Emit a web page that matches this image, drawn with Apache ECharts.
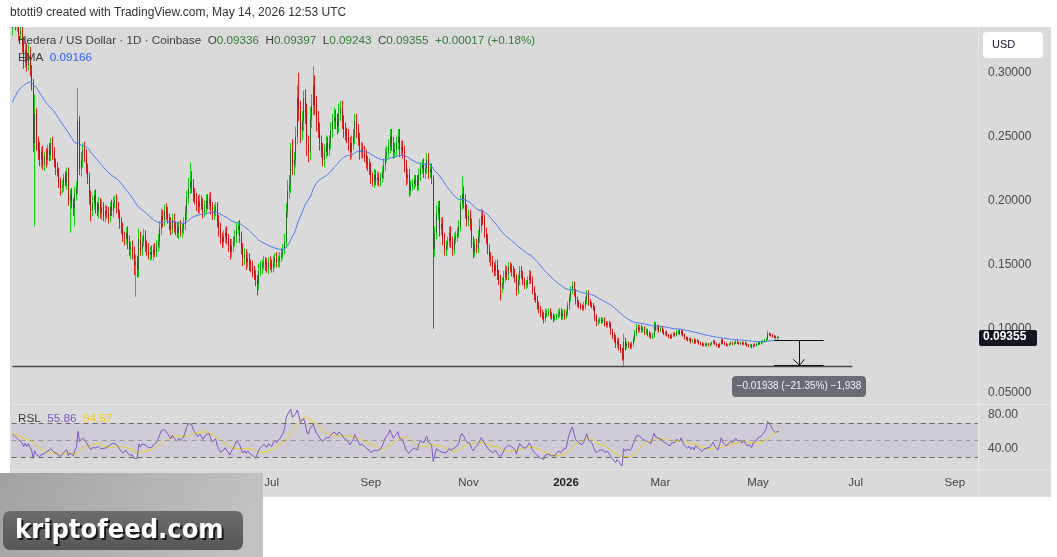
<!DOCTYPE html>
<html>
<head>
<meta charset="utf-8">
<script src="https://cdn.jsdelivr.net/npm/echarts@6/dist/echarts.min.js"></script>
<style>
html,body{margin:0;padding:0;background:#fff;}
#chart{width:1057px;height:557px;}
</style>
</head>
<body>
<div id="chart"></div>
<script>
// HBAR / USD daily candles, Coinbase, 20 Jan 2025 - 14 May 2026
// closes in thousandths of a dollar, month by month; open = previous close
// wickUp / wickDn: wick length above / below the body, same units
const close2501 = [345,352,338,342,330,333,322,308,318,306,314,301];
const up2501 = [15,12,10,8,9,7,8,6,7,5,8,6];
const dn2501 = [6,8,5,6,5,4,6,5,4,5,4,4];
const close2502 = [290,245,268,245,240,232,238,228,235,232, 240,236,245,238,230,225,222,215,210,212, 218,214,222,200,205,198,194,205];
const up2502 = [5,5,15,4,5,6,4,5,3,6, 4,5,4,5,4,3,5,4,3,4, 3,5,4,4,4,5,4,6];
const dn2502 = [4,7,65,6,8,5,6,4,5,6, 4,5,5,6,4,5,3,5,6,4, 5,3,5,4,25,4,6,14];
const close2503 = [210,262,225,232,240,235,225,218,203,192, 198,204,195,192,198,190,195,188,192,190, 188,195,192,198,200,195,190,183,178,172, 170];
const up2503 = [5,26,4,6,5,6,5,4,4,5, 6,4,5,4,5,4,6,4,5,4, 5,4,6,5,4,5,4,3,4,5, 4];
const dn2503 = [5,5,5,6,6,5,4,5,6,8, 4,5,5,4,6,4,5,4,5,4, 6,5,4,5,4,5,4,5,4,4, 5];
const close2504 = [175,168,162,164,160,150,152,146,170,162, 168,172,165,162,158,160,158,162,160,165, 168,178,188,185,192,190,186,182,178,185];
const up2504 = [4,5,5,4,5,4,6,5,8,6, 5,6,5,4,5,4,5,4,5,4, 6,6,6,5,5,6,5,4,5,5];
const dn2504 = [4,6,5,8,6,8,25,6,6,5, 5,4,5,5,4,5,4,5,4,4, 5,5,5,6,5,5,4,5,5,4];
const close2505 = [180,178,175,180,176,178,182,190,202,210, 215,212,205,202,198,195,200,197,192,194, 200,198,202,195,190,192,195,184,178,171, 168];
const up2505 = [5,4,5,4,5,4,5,6,6,8, 15,8,5,5,4,6,5,4,5,6, 5,5,4,5,4,5,4,4,5,5, 4];
const dn2505 = [5,5,4,5,4,5,4,5,5,5, 5,6,6,5,6,5,5,4,6,5, 5,5,5,6,5,5,4,5,6,5, 5];
const close2506 = [172,175,170,165,160,165,168,172,178,180, 172,163,155,158,152,155,150,148,145,142, 138,135,145,148,150,152,150,148,152,150];
const up2506 = [5,4,5,4,5,5,4,5,5,4, 5,4,4,5,4,5,4,4,5,4, 4,4,6,5,4,5,4,5,4,5];
const dn2506 = [4,5,4,5,6,4,5,4,5,4, 5,5,6,5,6,4,5,4,5,4, 5,9,5,4,5,4,5,4,5,4];
const close2507 = [148,152,155,152,153,156,158,162,168,192, 208,212,240,228,232,250,280,270,255,262, 280,268,245,238,265,275,290,275,262,255, 245];
const up2507 = [4,5,4,5,4,4,5,4,6,6, 8,8,5,8,6,8,10,20,8,8, 6,7,8,6,8,8,15,8,7,8, 6];
const dn2507 = [4,4,5,4,4,5,4,4,4,5, 5,6,6,8,8,6,6,8,10,8, 8,8,10,8,6,8,8,8,8,6, 6];
const close2508 = [240,232,238,245,240,245,255,262,265,262, 258,268,272,262,255,252,250,245,238,245, 250,262,255,248,238,240,238,235,230,228, 225];
const up2508 = [6,5,6,6,5,6,6,6,8,6, 6,8,6,6,5,6,5,6,5,6, 6,6,6,5,5,6,5,5,5,5, 5];
const dn2508 = [6,5,6,5,5,5,5,6,6,6, 6,5,6,6,6,5,5,6,6,5, 5,6,6,5,6,5,5,5,5,5, 5];
const close2509 = [218,215,220,216,218,215,218,222,228,235, 238,242,250,245,238,240,245,250,240,242, 238,228,218,220,208,212,213,216,215,212];
const up2509 = [5,4,5,4,5,4,4,5,5,6, 5,6,6,6,5,5,5,6,6,5, 5,5,4,5,5,4,4,4,4,5];
const dn2509 = [5,4,5,4,4,4,4,4,5,5, 5,5,5,6,5,5,5,5,6,5, 5,6,6,5,5,4,4,4,4,4];
const close2510 = [220,225,228,222,225,232,222,225,218,162, 175,190,195,178,182,170,162,165,168,175, 168,162,170,172,175,180,198,205,200,192, 185];
const up2510 = [5,5,4,5,4,5,5,4,4,2, 5,6,5,5,5,5,5,4,4,5, 5,4,5,4,4,5,6,14,6,5, 5];
const dn2510 = [4,5,4,4,5,4,5,4,5,62, 6,5,5,6,5,5,5,5,4,4, 5,5,4,4,4,4,4,5,6,6, 5];
const close2511 = [188,182,168,160,166,163,172,180,188,185, 175,170,162,156,153,148,145,150,142,138, 132,135,140,145,142,148,147,145,143,140];
const up2511 = [5,5,4,4,4,4,5,6,6,5, 4,4,4,4,4,4,4,4,4,4, 4,5,5,5,4,4,4,4,4,4];
const dn2511 = [5,5,5,5,4,4,4,5,5,4, 4,4,4,4,4,4,4,4,4,4, 10,4,4,4,4,4,3,4,3,4];
const close2512 = [130,138,145,142,137,134,135,138,142,138, 130,125,123,118,115,112,110,108,112,112, 113,111,110,108,109,110,112,113,110,112, 110];
const up2512 = [3,4,4,4,3,3,3,3,4,3, 3,3,3,3,3,3,3,3,4,3, 3,3,2,2,2,2,3,3,3,3, 3];
const dn2512 = [4,3,4,3,3,3,3,3,3,3, 3,3,3,3,3,3,3,4,3,3, 2,3,3,3,2,2,2,3,3,3, 3];
const close2601 = [112,118,124,130,134,128,122,120,118,117, 116,118,122,127,121,119,118,116,109,105, 106,107,106,107,104,103,104,103,98,95, 92];
const up2601 = [3,3,3,3,3,3,3,3,2,2, 2,3,3,3,3,2,2,2,2,2, 2,2,2,2,2,2,2,2,2,2, 2];
const dn2601 = [2,2,3,3,3,3,3,3,2,2, 2,2,3,3,3,2,2,2,3,3, 2,2,2,2,2,2,2,2,3,3, 3];
const close2602 = [88,90,86,84,76,90,86,88,87,86, 88,92,96,101,99,101,99,100,97,98, 96,95,94,95,103,100,101,99];
const up2602 = [3,3,3,2,1,6,3,2,2,2, 2,2,3,3,2,2,2,2,2,2, 2,2,2,2,3,2,2,2];
const dn2602 = [3,3,3,3,1,5.5,3,2,2,2, 2,2,2,2,2,2,2,2,2,2, 2,2,2,2,2,2,2,2];
const close2603 = [100,98,96,97,95,94,93,95,96,95, 97,98,96,98,95,93,92,91,92,90, 91,89,91,90,89,88,87,88,87,88, 87];
const up2603 = [2,1.5,1.5,1,1.5,1,1.5,1.5,1,1.5, 1.5,1,1.5,1,1.5,1,1,1.5,1,1, 1,1.5,1,1,1,1,1.5,1,1,1, 1];
const dn2603 = [1.5,1.5,1,1.5,1,1.5,1,1,1.5,1, 1,1.5,1,1.5,1,1.5,1,1,1,1.5, 1,1,1,1,1.5,1,1,1,1,1, 1];
const close2604 = [88,89,90,88,87,86,88,91,89,88, 87,87.5,88,89,88,89,90,89,88.5,89, 88,89,88,87,86.5,87,86,87.5,87,88];
const up2604 = [1,1,1.5,1,1,1,1.2,1.5,1,1, 1,0.8,1,1,1,1,1.2,1,0.8,1, 1,1,1,1,0.8,1,1,1,1,1];
const dn2604 = [1,1,1,1,1.2,1,1,1,1,1.2, 1,1,0.8,1,1,1,1,1,1,1, 1,1,1,1,1,1,1.2,1,1,1];
const close2605 = [89,88.5,89.5,90,91,92,96,95.5,95,94, 93.8,93.2,93.36,93.55];
const up2605 = [1,1,1,1,1,1,2.5,1,1,1, 0.8,0.8,0.8,0.42];
const dn2605 = [1,1,1,1,1,1,1,1,1,1, 1,1,1,0.93];
const firstOpen = 335;

const emaStart = 0.274;   // EMA value at the left edge
const rsiStart = 57;      // RSI value at the left edge

const tickDates = ['2025-07-01','2025-09-01','2025-11-01','2026-01-01','2026-03-01','2026-05-01','2026-07-01','2026-09-01'];
const tickNames = ['Jul','Sep','Nov','2026','Mar','May','Jul','Sep'];

const closeM = [].concat(close2501,close2502,close2503,close2504,close2505,close2506,close2507,close2508,close2509,close2510,close2511,close2512,close2601,close2602,close2603,close2604,close2605);
const upM = [].concat(up2501,up2502,up2503,up2504,up2505,up2506,up2507,up2508,up2509,up2510,up2511,up2512,up2601,up2602,up2603,up2604,up2605);
const dnM = [].concat(dn2501,dn2502,dn2503,dn2504,dn2505,dn2506,dn2507,dn2508,dn2509,dn2510,dn2511,dn2512,dn2601,dn2602,dn2603,dn2604,dn2605);

// day categories, past the last candle to the right edge of the plot
const nDays = 604;
const days = [];
for (let k = 0; k < nDays; k++) {
  days.push(new Date(Date.UTC(2025, 0, 20 + k)).toISOString().slice(0, 10));
}

const candles = closeM.map((c, i) => {
  const o = i ? closeM[i - 1] : firstOpen;
  const hi = Math.max(o, c) + upM[i];
  const lo = Math.min(o, c) - dnM[i];
  return [i, o / 1000, c / 1000, lo / 1000, hi / 1000];
});

// EMA 50
const ema = [];
let e = emaStart;
closeM.forEach((c, i) => { e = e + (c / 1000 - e) * 2 / 51; ema.push([i, e]); });

// RSI 14 (Wilder) and its 14 SMA
const rsi = [], rsiMa = [];
let ag = 0.0057, al = 0.0043;
closeM.forEach((c, i) => {
  if (i) {
    const d = (c - closeM[i - 1]) / 1000;
    ag = (ag * 13 + Math.max(d, 0)) / 14;
    al = (al * 13 + Math.max(-d, 0)) / 14;
  }
  rsi.push(i ? 100 - 100 / (1 + ag / al) : rsiStart);
  const from = Math.max(0, i - 13);
  const win = rsi.slice(from, i + 1);
  rsiMa.push(win.reduce((a, b) => a + b, 0) / win.length);
});

const font = '"Liberation Sans", Arial, sans-serif';
const chart = echarts.init(document.getElementById('chart'));
chart.setOption({
  animation: false,
  backgroundColor: '#fff',
  textStyle: {fontFamily: font},
  grid: [
    {left: 11.6, top: 27, width: 966.4, height: 429.7},
    {left: 11.6, top: 397.5, width: 966.4, height: 68}
  ],
  xAxis: [
    {type: 'category', gridIndex: 0, data: days, show: false},
    {type: 'category', gridIndex: 1, data: days,
      axisLine: {show: false}, axisTick: {show: false}, splitLine: {show: false},
      axisLabel: {
        margin: 11, fontSize: 11.5, color: '#444', fontFamily: font,
        interval: (idx, val) => tickDates.indexOf(val) >= 0,
        formatter: val => {
          const k = tickDates.indexOf(val);
          if (k < 0) return '';
          return tickNames[k] === '2026' ? '{y|2026}' : tickNames[k];
        },
        rich: {y: {fontWeight: 'bold', fontSize: 11.5, color: '#222', fontFamily: font}}
      }}
  ],
  yAxis: [
    {type: 'value', gridIndex: 0, position: 'right', min: 0, max: 0.3357, interval: 0.05,
      axisLine: {show: false}, axisTick: {show: false}, splitLine: {show: false},
      axisLabel: {margin: 10, fontSize: 12, color: '#4a4a4a', align: 'left',
        formatter: v => (v > 0.01 && Math.abs(v / 0.05 - Math.round(v / 0.05)) < 1e-6) ? v.toFixed(5) : ''}},
    {type: 'value', gridIndex: 1, position: 'right', min: 20, max: 100, interval: 20,
      axisLine: {show: false}, axisTick: {show: false}, splitLine: {show: false},
      axisLabel: {margin: 10, fontSize: 12, color: '#4a4a4a', align: 'left',
        formatter: v => (v === 40 || v === 80) ? v.toFixed(2) : ''}}
  ],
  series: [
    {
      type: 'custom', name: 'HBAR', xAxisIndex: 0, yAxisIndex: 0, clip: true,
      data: candles, encode: {x: 0, y: [1, 2, 3, 4]},
      renderItem: (params, api) => {
        const i = api.value(0), o = api.value(1), c = api.value(2), l = api.value(3), h = api.value(4);
        const pH = api.coord([i, h]), pL = api.coord([i, l]);
        const pO = api.coord([i, o]), pC = api.coord([i, c]);
        const x = Math.round(pH[0] - 0.5);
        const up = c >= o;
        const top = Math.min(pO[1], pC[1]), bot = Math.max(pO[1], pC[1]);
        return {type: 'group', children: [
          {type: 'rect', shape: {x: x, y: pH[1], width: 1, height: Math.max(1, pL[1] - pH[1])},
            style: {fill: up ? '#10d410' : '#ee1e1e'}},
          {type: 'rect', shape: {x: x, y: top, width: 1, height: Math.max(1, bot - top)},
            style: {fill: up ? '#2a6a2a' : '#b81414'}}
        ]};
      }
    },
    {
      type: 'line', name: 'EMA', xAxisIndex: 0, yAxisIndex: 0, data: ema,
      showSymbol: false, lineStyle: {color: '#4d7bf3', width: 1}, z: 3,
      markLine: {
        silent: true, symbol: ['none', 'none'], label: {show: false}, animation: false,
        data: [
          [{coord: [0, 0.0709], lineStyle: {color: '#4a4a4a', width: 1.4, type: 'solid'}}, {coord: [525, 0.0709]}],
          [{coord: [476, 0.09077], lineStyle: {color: '#111', width: 1.2, type: 'solid'}}, {coord: [507, 0.09077]}],
          [{coord: [476, 0.07139], lineStyle: {color: '#111', width: 1.2, type: 'solid'}}, {coord: [507, 0.07139]}],
          [{coord: [491.5, 0.09077], lineStyle: {color: '#111', width: 1, type: 'solid'}}, {coord: [491.5, 0.07139]}],
          [{coord: [488.4, 0.0761], lineStyle: {color: '#111', width: 1, type: 'solid'}}, {coord: [491.5, 0.07139]}],
          [{coord: [494.6, 0.0761], lineStyle: {color: '#111', width: 1, type: 'solid'}}, {coord: [491.5, 0.07139]}]
        ]
      }
    },
    {
      type: 'line', name: 'RSI', xAxisIndex: 1, yAxisIndex: 1, data: rsi.map((v, i) => [i, v]),
      showSymbol: false, lineStyle: {color: '#7e57c2', width: 1}, z: 3,
      markArea: {silent: true, itemStyle: {color: 'rgba(126,87,194,0.1)'}, data: [[{yAxis: 30}, {yAxis: 70}]]},
      markLine: {
        silent: true, symbol: ['none', 'none'], label: {show: false}, animation: false,
        data: [
          {yAxis: 70, lineStyle: {color: '#6a6a6a', type: [5, 4], width: 1}},
          {yAxis: 50, lineStyle: {color: '#9a9a9a', type: [5, 4], width: 1}},
          {yAxis: 30, lineStyle: {color: '#6a6a6a', type: [5, 4], width: 1}}
        ]
      }
    },
    {
      type: 'line', name: 'RSI MA', xAxisIndex: 1, yAxisIndex: 1, data: rsiMa.map((v, i) => [i, v]),
      showSymbol: false, lineStyle: {color: '#f2cf1f', width: 1}, z: 2
    }
  ]
});

const lastY = chart.convertToPixel({gridIndex: 0}, [0, closeM[closeM.length - 1] / 1000])[1] + 1;

chart.setOption({
  graphic: [
    // backgrounds and pane separators
    {type: 'rect', z: -10, silent: true, shape: {x: 10, y: 27, width: 1041, height: 470}, style: {fill: '#dadada'}},
    {type: 'line', z: -9, silent: true, shape: {x1: 10, y1: 404.5, x2: 1051, y2: 404.5}, style: {stroke: '#e6e6ea', lineWidth: 1}},
    {type: 'line', z: -9, silent: true, shape: {x1: 10, y1: 469.5, x2: 1051, y2: 469.5}, style: {stroke: '#e6e6ea', lineWidth: 1}},
    {type: 'line', z: -9, silent: true, shape: {x1: 978.5, y1: 27, x2: 978.5, y2: 497}, style: {stroke: '#e6e6ea', lineWidth: 1}},
    // header
    {type: 'text', left: 10, top: 7, style: {text: 'btotti9 created with TradingView.com, May 14, 2026 12:53 UTC',
      font: '12px ' + font, fill: '#333'}},
    {type: 'text', left: 18, top: 35, z: 10, style: {
      text: '{n|Hedera / US Dollar · 1D · Coinbase}  {n|O}{g|0.09336}  {n|H}{g|0.09397}  {n|L}{g|0.09243}  {n|C}{g|0.09355}  {g|+0.00017 (+0.18%)}',
      font: '11.7px ' + font, fill: '#3c3c3c',
      rich: {n: {fill: '#3c3c3c', font: '11.7px ' + font}, g: {fill: '#2e7d32', font: '11.7px ' + font}}}},
    {type: 'text', left: 18, top: 52, z: 10, style: {
      text: '{n|EMA}  {b|0.09166}', font: '11.7px ' + font,
      rich: {n: {fill: '#3c3c3c', font: '11.7px ' + font}, b: {fill: '#2962ff', font: '11.7px ' + font}}}},
    {type: 'text', left: 18, top: 413, z: 10, style: {
      text: '{n|RSL}  {p|55.86}  {y|54.57}', font: '11.7px ' + font,
      rich: {n: {fill: '#3c3c3c', font: '11.7px ' + font}, p: {fill: '#7e57c2', font: '11.7px ' + font}, y: {fill: '#f2cf1f', font: '11.7px ' + font}}}},
    // USD button
    {type: 'rect', shape: {x: 983, y: 32, width: 60, height: 26, r: 4}, style: {fill: '#fff'}},
    {type: 'text', left: 992, top: 39, style: {text: 'USD', font: '11px ' + font, fill: '#131722'}},
    // last price tag
    {type: 'rect', z: 10, shape: {x: 979, y: lastY - 8, width: 58, height: 16, r: 2}, style: {fill: '#131722'}},
    {type: 'text', z: 11, left: 983, top: lastY - 7, style: {text: '0.09355', font: 'bold 12px ' + font, fill: '#fff'}},
    // measure label
    {type: 'rect', z: 10, shape: {x: 732, y: 376, width: 134, height: 21, r: 4}, style: {fill: '#696c74'}},
    {type: 'text', z: 11, x: 799, y: 386.5, style: {text: '\u22120.01938 (\u221221.35%) \u22121,938',
      font: '10px ' + font, fill: '#f2f2f2', align: 'center', verticalAlign: 'middle'}},
    // white page margins
    {type: 'rect', z: 20, silent: true, shape: {x: 0, y: 27, width: 10, height: 530}, style: {fill: '#fff'}},
    {type: 'rect', z: 20, silent: true, shape: {x: 1051, y: 27, width: 6, height: 530}, style: {fill: '#fff'}},
    // watermark
    {type: 'rect', z: 30, shape: {x: 0, y: 473, width: 263, height: 84},
      style: {fill: new echarts.graphic.LinearGradient(0, 0, 1, 1, [{offset: 0, color: '#a2a2a2'}, {offset: 1, color: '#c4c4c4'}])}},
    {type: 'rect', z: 31, shape: {x: 3, y: 511, width: 240, height: 39, r: 7},
      style: {fill: new echarts.graphic.LinearGradient(0, 0, 0, 1, [{offset: 0, color: '#6c6c6c'}, {offset: 1, color: '#575757'}])}},
    {type: 'text', z: 32, x: 17, y: 533, style: {text: 'kriptofeed.com', font: 'bold 27px "DejaVu Sans Condensed", "DejaVu Sans", sans-serif',
      fill: '#1a1a1a', verticalAlign: 'middle'}},
    {type: 'text', z: 33, x: 15, y: 531, style: {text: 'kriptofeed.com', font: 'bold 27px "DejaVu Sans Condensed", "DejaVu Sans", sans-serif',
      fill: '#ffffff', verticalAlign: 'middle'}}
  ]
});
</script>
</body>
</html>
